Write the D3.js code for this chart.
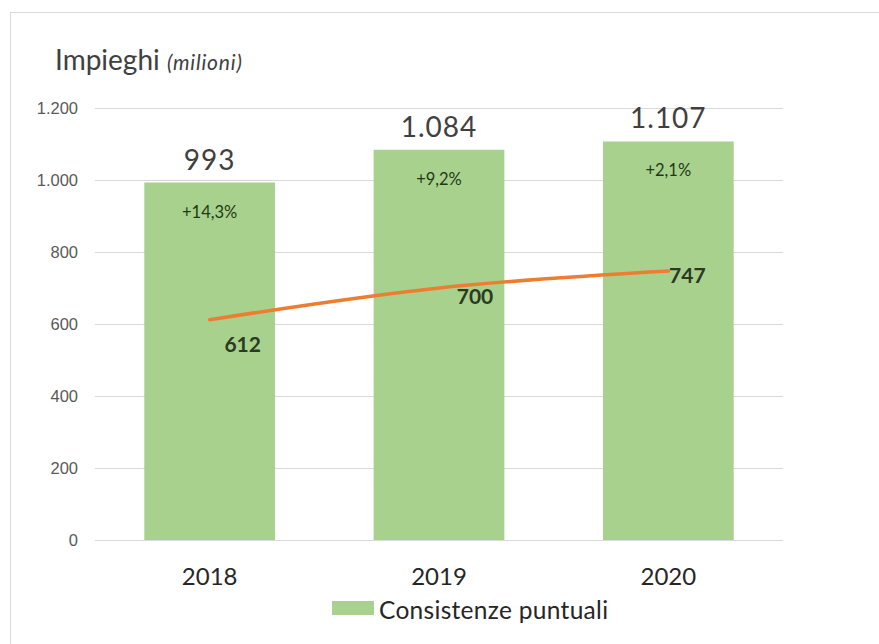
<!DOCTYPE html>
<html>
<head>
<meta charset="utf-8">
<script src="https://cdn.jsdelivr.net/npm/d3@7"></script>
<style>
  body { margin: 0; background: #fff; }
  svg { font-family: Lato, "Open Sans", sans-serif; }
</style>
</head>
<body>
<svg id="chart" width="879" height="644"></svg>
<script>
// Impieghi (milioni) -- bar + line

var years = ["2018", "2019", "2020"];
var consistenze = [993, 1084, 1107];
var crescita = ["+14,3%", "+9,2%", "+2,1%"];
var lineValues = [612, 700, 747];
var yTicks = [0, 200, 400, 600, 800, 1000, 1200];

var fmt = d3.formatLocale({ decimal: ",", thousands: ".", grouping: [3], currency: ["€", ""] }).format(",d");

var svg = d3.select("#chart");

// outer frame (only top and left edges visible)
svg.append("line").attr("x1", 10).attr("x2", 879).attr("y1", 12.5).attr("y2", 12.5)
  .attr("stroke", "#d9d9d9");
svg.append("line").attr("x1", 10.5).attr("x2", 10.5).attr("y1", 12).attr("y2", 644)
  .attr("stroke", "#d9d9d9");

var x = d3.scaleBand().domain(years).range([95, 783]).paddingInner(0.43).paddingOuter(0.215);
var y = d3.scaleLinear().domain([0, 1200]).range([540, 108]);

// gridlines + y labels
var yAxis = d3.axisLeft(y).tickValues(yTicks).tickSize(-(783 - 95)).tickFormat(fmt).tickPadding(17);
var gy = svg.append("g").attr("transform", "translate(95,0)").call(yAxis);
gy.select(".domain").remove();
gy.selectAll(".tick line").attr("stroke", "#d9d9d9");
gy.selectAll(".tick text").attr("fill", "#595959").style("font-size", "16.5px");

// bars
svg.append("g").selectAll("rect")
  .data(consistenze)
  .join("rect")
  .attr("x", function (d, i) { return x(years[i]); })
  .attr("y", function (d) { return y(d); })
  .attr("width", x.bandwidth())
  .attr("height", function (d) { return y(0) - y(d); })
  .attr("fill", "#a9d18e");

// bar value labels
svg.append("g").selectAll("text")
  .data(consistenze)
  .join("text")
  .attr("x", function (d, i) { return x(years[i]) + x.bandwidth() / 2; })
  .attr("y", function (d) { return y(d) - 13; })
  .attr("text-anchor", "middle")
  .attr("fill", "#404040")
  .style("font-size", "28px")
  .style("letter-spacing", "1px")
  .text(function (d) { return fmt(d); });

// growth labels inside bars
svg.append("g").selectAll("text")
  .data(crescita)
  .join("text")
  .attr("x", function (d, i) { return x(years[i]) + x.bandwidth() / 2; })
  .attr("y", function (d, i) { return y(consistenze[i]) + 35; })
  .attr("text-anchor", "middle")
  .attr("fill", "#1e3a14")
  .style("font-size", "16.5px")
  .text(function (d) { return d; });

// line
var line = d3.line()
  .x(function (d, i) { return x(years[i]) + x.bandwidth() / 2; })
  .y(function (d) { return y(d); })
  .curve(d3.curveMonotoneX);

svg.append("path")
  .datum(lineValues)
  .attr("d", line)
  .attr("fill", "none")
  .attr("stroke", "#ed7d31")
  .attr("stroke-width", 3.5)
  .attr("stroke-linecap", "round");

// line labels
var lineLabelOffset = [[33, 32], [36, 16], [19, 12]];
svg.append("g").selectAll("text")
  .data(lineValues)
  .join("text")
  .attr("x", function (d, i) { return x(years[i]) + x.bandwidth() / 2 + lineLabelOffset[i][0]; })
  .attr("y", function (d, i) { return y(d) + lineLabelOffset[i][1]; })
  .attr("text-anchor", "middle")
  .attr("fill", "#2b3a22")
  .style("font-size", "21px")
  .style("font-weight", "bold")
  .text(function (d) { return fmt(d); });

// x labels
svg.append("g").selectAll("text")
  .data(years)
  .join("text")
  .attr("x", function (d) { return x(d) + x.bandwidth() / 2; })
  .attr("y", 585)
  .attr("text-anchor", "middle")
  .attr("fill", "#262626")
  .style("font-size", "24px")
  .text(function (d) { return d; });

// title
var title = svg.append("text").attr("x", 55).attr("y", 70).attr("fill", "#404040");
title.append("tspan").style("font-size", "28px").text("Impieghi ");
title.append("tspan").style("font-size", "21px").style("font-style", "italic").style("letter-spacing", "0.8px").text("(milioni)");

// legend
svg.append("rect").attr("x", 332).attr("y", 601).attr("width", 42).attr("height", 14).attr("fill", "#a9d18e");
svg.append("text").attr("x", 379).attr("y", 619).attr("fill", "#262626")
  .style("font-size", "24.5px").style("letter-spacing", "0.3px").text("Consistenze puntuali");
</script>
</body>
</html>
